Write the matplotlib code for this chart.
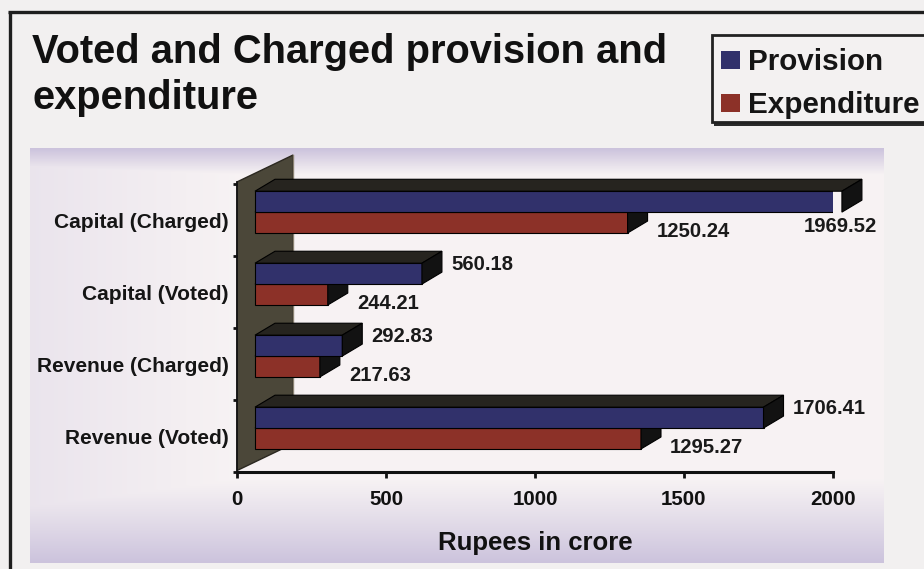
import numpy as np
import matplotlib.pyplot as plt
from matplotlib.patches import Polygon, Rectangle

# data (Rupees in crore)
categories = ['Revenue (Voted)', 'Revenue (Charged)', 'Capital (Voted)', 'Capital (Charged)']
provision = [1706.41, 292.83, 560.18, 1969.52]
expenditure = [1295.27, 217.63, 244.21, 1250.24]
xticks = [0, 500, 1000, 1500, 2000]
series_names = ['Provision', 'Expenditure']

W, H = 924, 569
NAVY = '#31316b'
RED = '#8c3128'
TOPC = '#26241f'
SIDEC = '#121212'

plt.rcParams['font.family'] = ['Liberation Sans', 'DejaVu Sans']
plt.rcParams['font.weight'] = 'bold'

fig = plt.figure(figsize=(W / 100, H / 100), dpi=100)
fig.patch.set_facecolor('#f2f0f0')

# background layer, pixel units
bg = fig.add_axes([0, 0, 1, 1])
bg.set_xlim(0, W)
bg.set_ylim(H, 0)
bg.axis('off')

# chart panel with soft lavender gradient
yy = np.linspace(148, 563, 300)[:, None]
xx = np.linspace(30, 884, 400)[None, :]
top = np.clip(1 - (yy - 148) / 26, 0, 1)
bottom = np.clip((yy - 478) / 85, 0, 1) ** 1.1
left = np.clip(1 - (xx - 30) / 210, 0, 1) * 0.3
w = np.maximum(np.maximum(top, bottom), left)
light = np.array([0.97, 0.952, 0.956])
lav = np.array([0.80, 0.765, 0.865])
img = light * (1 - w[..., None]) + lav * w[..., None]
bg.imshow(img, extent=(30, 884, 563, 148), aspect='auto', zorder=0)

# frame lines
bg.plot([8, W], [12, 12], color='#1e1e1e', lw=2.4, solid_capstyle='butt')
bg.plot([9.5, 9.5], [12, H], color='#1e1e1e', lw=2.4, solid_capstyle='butt')

# title
bg.text(32, 63, 'Voted and Charged provision and', fontsize=28.7, weight='bold',
        va='baseline', color='#111111')
bg.text(32, 109, 'expenditure', fontsize=28.7, weight='bold', va='baseline', color='#111111')

# legend box
bg.add_patch(Rectangle((714, 38), 230, 88, fc='#2a2a2a', ec='none', zorder=2))
bg.add_patch(Rectangle((712, 35), 230, 87, fc='#f3f1f1', ec='#222222', lw=2, zorder=3))
for k, (name, col) in enumerate(zip(series_names, [NAVY, RED])):
    base = 70 + 43 * k
    bg.add_patch(Rectangle((721, base - 19), 19, 18, fc=col, ec='none', zorder=4))
    bg.text(748, base, name, fontsize=21.3, weight='bold', va='baseline', color='#151515', zorder=4)

# chart axes
ax = fig.add_axes([237 / W, (H - 472) / H, 596 / W, 322 / H])
y_floor = -0.48
ax.set_xlim(0, 2000)
ax.set_ylim(y_floor, y_floor + 322 / 72.3)
ax.patch.set_alpha(0)
px = 2000 / 596      # data x per pixel
py = 1 / 72.3        # data y per pixel
y_top = 3.53

# left wall
wd, wh = 56 * px, 27 * py
ax.add_patch(Polygon([(0, y_floor), (0, y_top), (wd, y_top + wh), (wd, y_floor + wh)],
                     closed=True, fc='#4b4739', ec='#2b2820', lw=1, zorder=1, clip_on=False))
ax.plot([wd, wd], [y_floor + wh, y_top + wh], color='#8a8272', lw=1, zorder=1.1, clip_on=False)

# 3D-looking bars
bx, by = 18 * px, 8 * py
bh = 21 * py
dx, dy = 20 * px, 12 * py


def bar3d(y0, val, col, z):
    ax.barh(y0 + bh / 2, val, height=bh, left=bx, color=col, ec='black', lw=0.8, zorder=z)
    x1 = bx + val
    ax.add_patch(Polygon([(bx, y0 + bh), (bx + dx, y0 + bh + dy), (x1 + dx, y0 + bh + dy),
                          (x1, y0 + bh)], closed=True, fc=TOPC, ec='black', lw=0.8,
                         zorder=z, clip_on=False))
    ax.add_patch(Polygon([(x1, y0), (x1, y0 + bh), (x1 + dx, y0 + bh + dy), (x1 + dx, y0 + dy)],
                         closed=True, fc=SIDEC, ec='black', lw=0.8, zorder=z, clip_on=False))


for i in range(len(categories)):
    b = i + by
    bar3d(b - bh, expenditure[i], RED, 3)
    bar3d(b, provision[i], NAVY, 4)

# value labels
for i in range(len(categories)):
    b = i + by
    for val, yc, shift in [(provision[i], b + bh / 2, 9), (expenditure[i], b - bh / 2, -9)]:
        xl = bx + val + 29 * px
        if xl + 72 * px > 2000 + 46 * px:
            ax.text(2000 + 44 * px, yc - 25 * py, f'{val:.2f}', ha='right', va='center',
                    fontsize=14.6, weight='bold', color='#1a1a1a', clip_on=False)
        else:
            ax.text(xl, yc + shift * py, f'{val:.2f}', ha='left', va='center',
                    fontsize=14.6, weight='bold', color='#1a1a1a', clip_on=False)

# axes styling
for s in ['top', 'right']:
    ax.spines[s].set_visible(False)
ax.spines['bottom'].set_linewidth(2.2)
ax.spines['bottom'].set_color('#111111')
ax.spines['bottom'].set_bounds(0, 2000)
ax.spines['left'].set_linewidth(1.2)
ax.spines['left'].set_color('#111111')
ax.spines['left'].set_bounds(y_floor, y_top)
ax.spines['left'].set_zorder(2)

ax.set_xticks(xticks)
ax.set_xticklabels([str(t) for t in xticks])
ax.tick_params(axis='x', length=4, width=2, direction='out', pad=9, labelsize=14.8,
               colors='#111111')
ax.set_yticks(range(len(categories)))
ax.set_yticklabels(categories)
ax.set_yticks(np.arange(-0.5, 4, 1), minor=True)
ax.tick_params(axis='y', which='major', length=0, pad=6, labelsize=15, colors='#151515')
ax.tick_params(axis='y', which='minor', length=3, width=2, direction='out', colors='#111111')
ax.set_xlabel('Rupees in crore', fontsize=18.5, weight='bold', labelpad=16, color='#111111')

fig.savefig('out.png', dpi=100, facecolor=fig.get_facecolor())
